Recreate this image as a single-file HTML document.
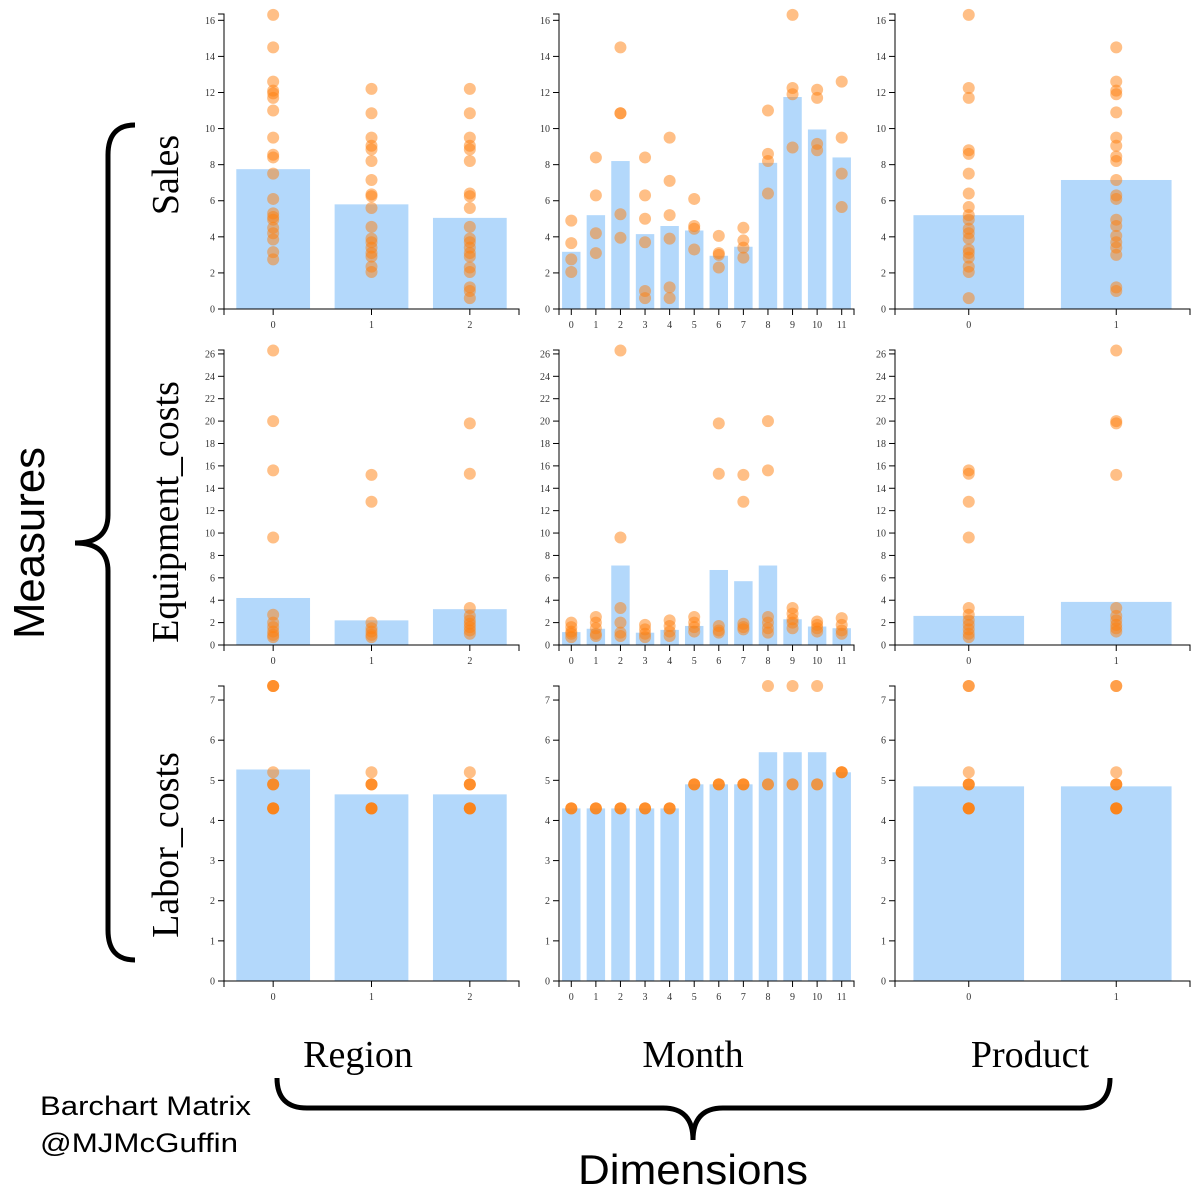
<!DOCTYPE html>
<html><head><meta charset="utf-8"><style>
html,body{margin:0;padding:0;background:#fff;}
svg{display:block;}
.tick{font-family:"Liberation Serif",serif;font-size:10px;fill:#333;}
.lab{font-family:"Liberation Serif",serif;font-size:38px;fill:#000;}
.sans{font-family:"Liberation Sans",sans-serif;fill:#000;}
</style></head><body>
<svg id="chart" width="1200" height="1199">
<path d="M135,125 Q108,125 108,155 L108,515 Q108,543 75,543 Q108,543 108,571 L108,930 Q108,960 135,960" fill="none" stroke="#000" stroke-width="5"/>
<path d="M277,1078 Q277,1108 307,1108 L663,1108 Q693,1108 693,1140 Q693,1108 723,1108 L1080,1108 Q1110,1108 1110,1078" fill="none" stroke="#000" stroke-width="5"/>
<text class="sans" x="0" y="0" font-size="44" text-anchor="middle" textLength="192" lengthAdjust="spacingAndGlyphs" transform="translate(44,543) rotate(-90)">Measures</text>
<text class="sans" x="693" y="1184" font-size="42" text-anchor="middle" textLength="230" lengthAdjust="spacingAndGlyphs">Dimensions</text>
<text class="sans" x="40" y="1115" font-size="27" textLength="211" lengthAdjust="spacingAndGlyphs">Barchart Matrix</text>
<text class="sans" x="40" y="1152" font-size="27" textLength="198" lengthAdjust="spacingAndGlyphs">@MJMcGuffin</text>
</svg>
<script>
const dimNames = ["Region","Month","Product"];
const measureNames = ["Sales","Equipment_costs","Labor_costs"];
const regionCats = ["0","1","2"];
const monthCats = ["0","1","2","3","4","5","6","7","8","9","10","11"];
const productCats = ["0","1"];
const salesMax = 16.35, equipMax = 26.35, laborMax = 7.35;
const salesTicks = [0,2,4,6,8,10,12,14,16];
const equipTicks = [0,2,4,6,8,10,12,14,16,18,20,22,24,26];
const laborTicks = [0,1,2,3,4,5,6,7];

const salesRegionBars = [7.75,5.8,5.05];
const salesRegionDots = [
 [16.3,14.5,12.6,12.1,11.95,11.7,11.0,9.5,8.55,8.4,7.5,6.1,5.3,5.1,4.95,4.5,4.2,3.85,3.15,2.75],
 [12.2,10.85,9.5,9.05,8.85,8.2,7.15,6.35,6.25,5.6,4.55,3.9,3.7,3.4,3.1,2.9,2.35,2.05],
 [12.2,10.85,9.5,9.05,8.85,8.2,6.4,6.25,5.6,4.55,3.9,3.7,3.4,3.1,2.9,2.3,2.05,1.2,1.0,0.6]];
const salesMonthBars = [3.17,5.2,8.2,4.15,4.6,4.35,2.95,3.45,8.1,11.75,9.95,8.4];
const salesMonthDots = [[4.9,3.65,2.75,2.05],[8.4,6.3,4.2,3.1],[14.5,10.85,10.85,5.25,3.95],[8.4,6.3,5.0,3.7,1.0,0.6],
 [9.5,7.1,5.2,3.9,1.2,0.6],[6.1,4.6,4.45,3.3],[4.05,3.1,3.0,2.3],[4.5,3.8,3.4,2.85],[11.0,8.6,8.2,6.4],
 [16.3,12.25,11.9,8.95],[12.15,11.7,9.15,8.8],[12.6,9.5,7.5,5.65]];
const salesProductBars = [5.2,7.15];
const salesProductDots = [
 [16.3,12.25,11.7,8.8,8.6,7.5,6.4,5.65,5.2,4.95,4.45,4.2,3.9,3.3,3.1,2.85,2.35,2.05,0.6],
 [14.5,12.6,12.1,11.9,10.9,9.5,9.05,8.45,8.2,7.15,6.3,6.1,4.95,4.6,4.05,3.7,3.4,3.0,1.2,1.0]];

const equipRegionBars = [4.2,2.2,3.2];
const equipRegionDots = [[26.3,20.0,15.6,9.6,2.7,2.0,1.6,1.2,0.9,0.7],[15.2,12.8,2.0,1.5,1.2,0.9,0.7],[19.8,15.3,3.3,2.6,2.2,1.9,1.6,1.3,1.0]];
const equipMonthBars = [1.15,1.45,7.1,1.1,1.35,1.7,6.7,5.7,7.1,2.3,1.65,1.5];
const equipMonthDots = [[2.0,1.6,1.2,1.0,0.7],[2.5,2.0,1.5,1.0,0.8],[26.3,9.6,3.3,2.0,1.1,0.8],[1.8,1.4,1.0,0.7],[2.2,1.7,1.2,0.8],
 [2.5,2.0,1.6,1.2],[19.8,15.3,1.7,1.3,1.1],[15.2,12.8,1.9,1.6,1.4],[20.0,15.6,2.5,2.0,1.5,1.1],[3.3,2.8,2.3,2.0,1.5],[2.1,1.8,1.5,1.2],[2.4,1.8,1.3,1.0]];
const equipProductBars = [2.6,3.85];
const equipProductDots = [[15.6,15.3,12.8,9.6,3.3,2.7,2.2,1.8,1.4,1.0,0.7],[26.3,20.0,19.8,15.2,3.3,2.6,2.2,1.8,1.5,1.2]];

const laborRegionBars = [5.27,4.65,4.65];
const laborRegionDots = [[7.35,7.35,7.35,5.2,4.9,4.9,4.9,4.3,4.3,4.3,4.3],[5.2,4.9,4.9,4.9,4.3,4.3,4.3,4.3],[5.2,4.9,4.9,4.9,4.3,4.3,4.3,4.3]];
const laborMonthBars = [4.3,4.3,4.3,4.3,4.3,4.9,4.9,4.9,5.7,5.7,5.7,5.2];
const laborMonthDots = [[4.3,4.3,4.3],[4.3,4.3,4.3],[4.3,4.3,4.3],[4.3,4.3,4.3],[4.3,4.3,4.3],[4.9,4.9,4.9],[4.9,4.9,4.9],[4.9,4.9,4.9],[7.35,4.9,4.9],[7.35,4.9,4.9],[7.35,4.9,4.9],[5.2,5.2,5.2]];
const laborProductBars = [4.85,4.85];
const laborProductDots = [[7.35,7.35,5.2,4.9,4.9,4.9,4.3,4.3,4.3,4.3],[7.35,7.35,5.2,4.9,4.9,4.9,4.3,4.3,4.3,4.3]];

const NS = "http://www.w3.org/2000/svg";
const svg = document.getElementById('chart');
function mk(tag, attrs, parent){ const e=document.createElementNS(NS,tag); for(const k in attrs) e.setAttribute(k,attrs[k]); (parent||svg).appendChild(e); return e; }

const colX = [224,559,895], rowY = [14,350,686], PW = 295, PH = 295;
const panels = [
 [ [regionCats,salesRegionBars,salesRegionDots],[monthCats,salesMonthBars,salesMonthDots],[productCats,salesProductBars,salesProductDots] ],
 [ [regionCats,equipRegionBars,equipRegionDots],[monthCats,equipMonthBars,equipMonthDots],[productCats,equipProductBars,equipProductDots] ],
 [ [regionCats,laborRegionBars,laborRegionDots],[monthCats,laborMonthBars,laborMonthDots],[productCats,laborProductBars,laborProductDots] ]];
const maxes = [salesMax,equipMax,laborMax];
const ticks = [salesTicks,equipTicks,laborTicks];

for(let r=0;r<3;r++){
 for(let c=0;c<3;c++){
  const [cats,bars,dots] = panels[r][c];
  const x0=colX[c], y0=rowY[r], bottom=y0+PH;
  const g = mk('g',{});
  
  
  const yS = v => bottom - v/maxes[r]*PH;
  const step = PW/cats.length;
  const xC = i => x0 + step*(i+0.5);
  const bw = step*0.75;
  bars.forEach((v,i)=>{
   const b = mk('rect',{x:xC(i)-bw/2,y:yS(v),width:bw,height:bottom-yS(v),fill:'#b3d8fb'},g);
   
   
  });
  dots.forEach((arr,i)=>{
   arr.forEach(v=>{
    const d = mk('circle',{cx:xC(i),cy:yS(v),r:6,fill:'#ff7f0e','fill-opacity':0.5},g);
    
    
   });
  });
  const ya = mk('path',{d:`M${x0-6},${y0}H${x0}V${bottom}H${x0-6}`,fill:'none',stroke:'#000','stroke-width':1},g);
  
  
  ticks[r].forEach(t=>{
   mk('line',{x1:x0-6,x2:x0,y1:yS(t),y2:yS(t),stroke:'#000'},g);
   const tl = mk('text',{x:x0-9,y:yS(t)+3.5,'text-anchor':'end',class:'tick'},g);
   tl.textContent = t;
   
   
  });
  const xa = mk('path',{d:`M${x0},${bottom+6}V${bottom}H${x0+PW}V${bottom+6}`,fill:'none',stroke:'#000','stroke-width':1},g);
  
  
  cats.forEach((cName,i)=>{
   mk('line',{x1:xC(i),x2:xC(i),y1:bottom,y2:bottom+6,stroke:'#000'},g);
   const tl = mk('text',{x:xC(i),y:bottom+19,'text-anchor':'middle',class:'tick'},g);
   tl.textContent = cName;
   
   
  });
 }
}
const rowCenters = [175,512,845];
measureNames.forEach((m,r)=>{
 const t = mk('text',{x:0,y:0,'text-anchor':'middle',class:'lab',transform:`translate(178,${rowCenters[r]}) rotate(-90)`});
 t.textContent = m;
 
 
});
const colCenters = [358,693,1030];
dimNames.forEach((d,c)=>{
 const t = mk('text',{x:colCenters[c],y:1067,'text-anchor':'middle',class:'lab'});
 t.textContent = d;
 
 
});
</script>
</body></html>
